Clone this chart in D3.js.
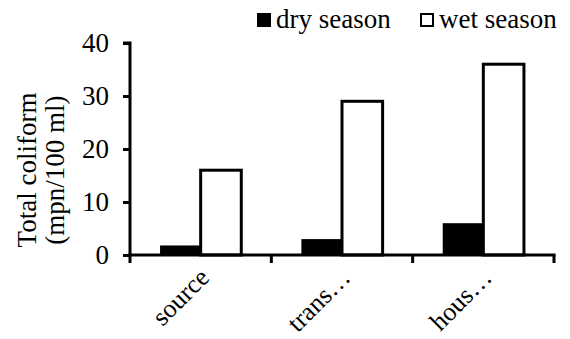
<!DOCTYPE html>
<html>
<head>
<meta charset="utf-8">
<script src="https://cdn.jsdelivr.net/npm/d3@7"></script>
</head>
<body style="margin:0">
<svg id="chart" width="570" height="339" style="font-family:'Liberation Serif'">
<text id="ytitle" transform="translate(36,170) rotate(-90)" text-anchor="middle" font-family="Liberation Serif" font-size="27" fill="#000"><tspan x="0" dy="0">Total coliform</tspan><tspan x="0" dy="28">(mpn/100 ml)</tspan></text>
</svg>
<script>
// Total coliform by sampling point and season
const categories = ["source", "trans\u2026", "hous\u2026"];
const seriesNames = ["dry season", "wet season"];
const dryValues = [1.8, 3, 6];
const wetValues = [16, 29, 36];
const yTicks = [0, 10, 20, 30, 40];

const FONT = "Liberation Serif";
const FS = 27;

const svg = d3.select("#chart");
const margin = { left: 130, right: 16, top: 43, bottom: 84 };
const width = 570, height = 339;

const x = d3.scaleBand()
  .domain(categories)
  .range([margin.left, width - margin.right])
  .paddingInner(0).paddingOuter(0);

const sub = d3.scaleBand()
  .domain(seriesNames)
  .range([0, x.bandwidth()])
  .paddingInner(0)
  .paddingOuter(0.74);

const y = d3.scaleLinear()
  .domain([0, 40])
  .range([height - margin.bottom, margin.top]);

const rows = categories.map((c, i) => ({
  cat: c,
  vals: [
    { key: seriesNames[0], v: dryValues[i] },
    { key: seriesNames[1], v: wetValues[i] }
  ]
}));

// Bars: dry season solid black, wet season white with black outline
svg.append("g").selectAll("g.cat")
  .data(rows)
  .join("g")
  .attr("class", "cat")
  .attr("transform", d => `translate(${x(d.cat)},0)`)
  .selectAll("rect")
  .data(d => d.vals)
  .join("rect")
  .attr("x", d => sub(d.key))
  .attr("y", d => y(d.v))
  .attr("width", sub.bandwidth())
  .attr("height", d => y(0) - y(d.v))
  .attr("fill", d => d.key === seriesNames[0] ? "#000" : "#fff")
  .attr("stroke", "#000")
  .attr("stroke-width", d => d.key === seriesNames[0] ? 0 : 3);

// Y axis
const yAxis = svg.append("g")
  .attr("transform", `translate(${margin.left},0)`)
  .call(d3.axisLeft(y).tickValues(yTicks).tickSize(7).tickPadding(14));
yAxis.attr("font-family", FONT).attr("font-size", FS);
yAxis.select(".domain").attr("stroke-width", 3).attr("d", `M-7,${y(40)}H0V${y(0)}`);
yAxis.selectAll(".tick line").attr("stroke-width", 3);
yAxis.selectAll(".tick text")
  .attr("font-family", FONT)
  .attr("font-size", FS)
  .attr("fill", "#000");

// X axis with category boundary ticks
const xAxis = svg.append("g")
  .attr("transform", `translate(0,${y(0)})`);
xAxis.append("line")
  .attr("x1", margin.left - 1.5).attr("x2", width - margin.right + 1.5)
  .attr("stroke", "#000").attr("stroke-width", 3);
const bounds = categories.map(c => x(c)).concat([x(categories[categories.length - 1]) + x.bandwidth()]);
xAxis.selectAll("line.tk")
  .data(bounds)
  .join("line")
  .attr("class", "tk")
  .attr("x1", d => d).attr("x2", d => d)
  .attr("y1", 0).attr("y2", 8)
  .attr("stroke", "#000").attr("stroke-width", 3);
xAxis.selectAll("text.cl")
  .data(categories)
  .join("text")
  .attr("class", "cl")
  .attr("font-family", FONT)
  .attr("font-size", 26)
  .attr("text-anchor", "end")
  .attr("transform", d => `translate(${x(d) + x.bandwidth() / 2 + 10},${24}) rotate(-45)`)
  .text(d => d);

// Legend
const legend = svg.append("g").attr("transform", "translate(257,0)");
const items = [
  { name: seriesNames[0], fill: "#000", x: 0 },
  { name: seriesNames[1], fill: "#fff", x: 163 }
];
const li = legend.selectAll("g").data(items).join("g")
  .attr("transform", d => `translate(${d.x},0)`);
li.append("rect")
  .attr("x", d => d.fill === "#fff" ? 1 : 0)
  .attr("y", d => d.fill === "#fff" ? 14 : 13)
  .attr("width", d => d.fill === "#fff" ? 12 : 14)
  .attr("height", d => d.fill === "#fff" ? 12 : 14)
  .attr("fill", d => d.fill).attr("stroke", "#000")
  .attr("stroke-width", d => d.fill === "#fff" ? 2 : 0);
li.append("text")
  .attr("x", 19).attr("y", 28)
  .attr("font-family", FONT)
  .attr("font-size", FS)
  .text(d => d.name);
</script>
</body>
</html>
